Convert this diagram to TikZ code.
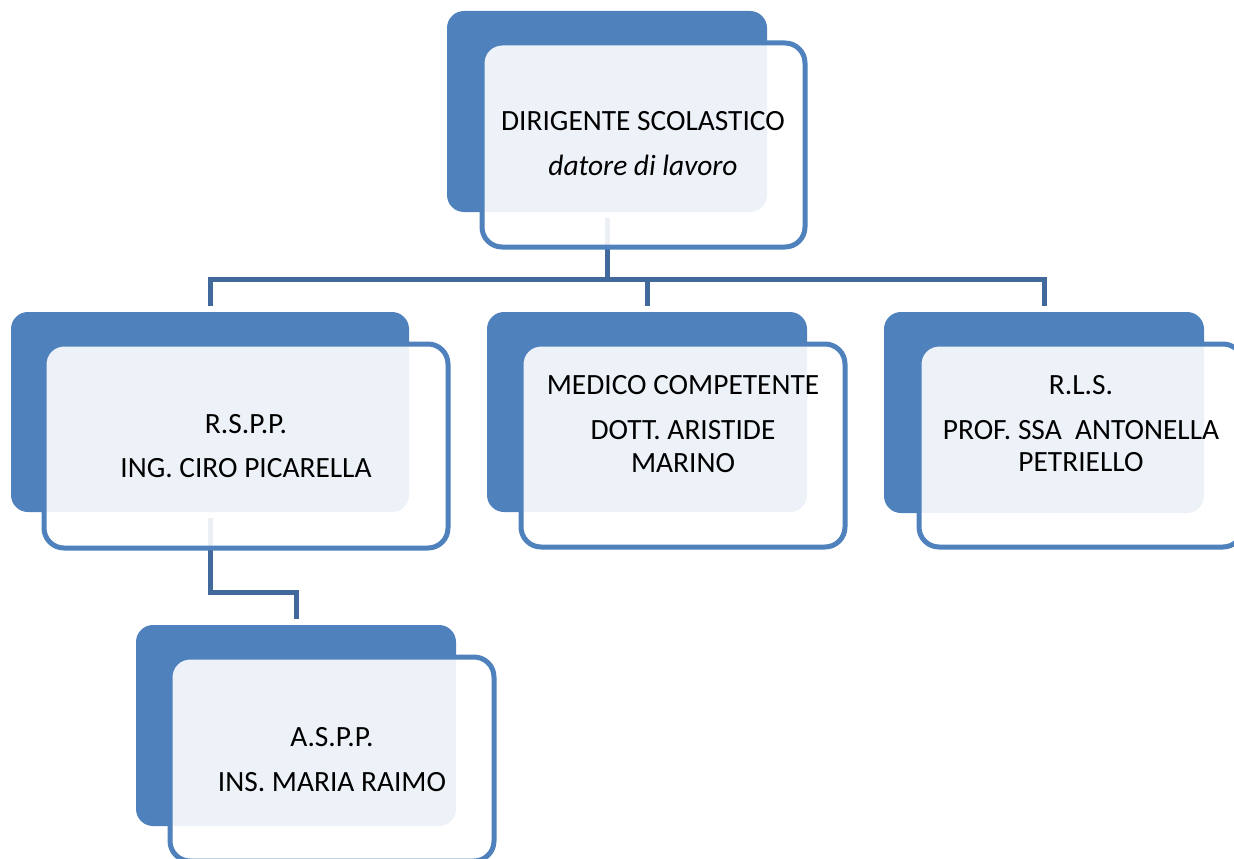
\documentclass[tikz,border=0pt]{standalone}
\usepackage{fontspec}
\setmainfont{Carlito}
\definecolor{accent}{HTML}{4F81BD}
\definecolor{connc}{HTML}{41699C}
\tikzset{
  backbox/.style={fill=accent, draw=none, rounded corners=17pt, inner sep=0pt},
  frontbox/.style={fill=white, fill opacity=0.9, draw=accent, draw opacity=1, line width=5pt, rounded corners=20pt, inner sep=0pt},
  conn/.style={draw=connc, line width=5pt},
  lbl/.style={anchor=base, inner sep=0pt, font=\fontsize{29.4}{33}\selectfont, text=black},
}
\begin{document}
\begin{tikzpicture}[x=1pt,y=-1pt]
\useasboundingbox (0,0) rectangle (1234,859);
% back boxes
\node[backbox, minimum width=320, minimum height=201] (b0) at (607,111.5) {};
\node[backbox, minimum width=398, minimum height=200] (b1) at (210,412) {};
\node[backbox, minimum width=320, minimum height=200] (b2) at (647,412) {};
\node[backbox, minimum width=320, minimum height=201] (b3) at (1044,412.5) {};
\node[backbox, minimum width=320, minimum height=201] (b4) at (296,725.5) {};
% connectors
\coordinate (h) at (0,279);
\coordinate (h2) at (0,592);
\draw[conn] ([yshift=-6pt]b0.south) |- (h -| b1.north) -- ([yshift=6pt]b1.north);
\draw[conn] ([yshift=-6pt]b0.south) |- (h -| b2.north) -- ([yshift=6pt]b2.north);
\draw[conn] ([yshift=-6pt]b0.south) |- (h -| b3.north) -- ([yshift=6pt]b3.north);
\draw[conn] ([yshift=-6pt]b1.south) |- (h2 -| b4.north) -- ([yshift=6pt]b4.north);
% front boxes
\node[frontbox, minimum width=323, minimum height=204] (f0) at (643.5,145) {};
\node[frontbox, minimum width=404, minimum height=204] (f1) at (246,446) {};
\node[frontbox, minimum width=324, minimum height=203] (f2) at (683,445.5) {};
\node[frontbox, minimum width=324, minimum height=203] (f3) at (1081,445.5) {};
\node[frontbox, minimum width=324, minimum height=204] (f4) at (332,759) {};
% texts
\node[lbl] (t0a) at (643,130) {DIRIGENTE SCOLASTICO};
\node[lbl] (t0b) at (643,175) {\itshape datore di lavoro};
\node[lbl] (t1a) at (246,433) {R.S.P.P.};
\node[lbl] (t1b) at (246,477) {ING. CIRO PICARELLA};
\node[lbl] (t2a) at (683,394) {MEDICO COMPETENTE};
\node[lbl] (t2b) at (683,439) {DOTT. ARISTIDE};
\node[lbl] (t2c) at (683,472) {MARINO};
\node[lbl] (t3a) at (1081,394) {R.L.S.};
\node[lbl] (t3b) at (1081,439) {PROF. SSA\ \ ANTONELLA};
\node[lbl] (t3c) at (1081,471) {PETRIELLO};
\node[lbl] (t4a) at (332,746) {A.S.P.P.};
\node[lbl] (t4b) at (332,791) {INS. MARIA RAIMO};
\end{tikzpicture}
\end{document}
